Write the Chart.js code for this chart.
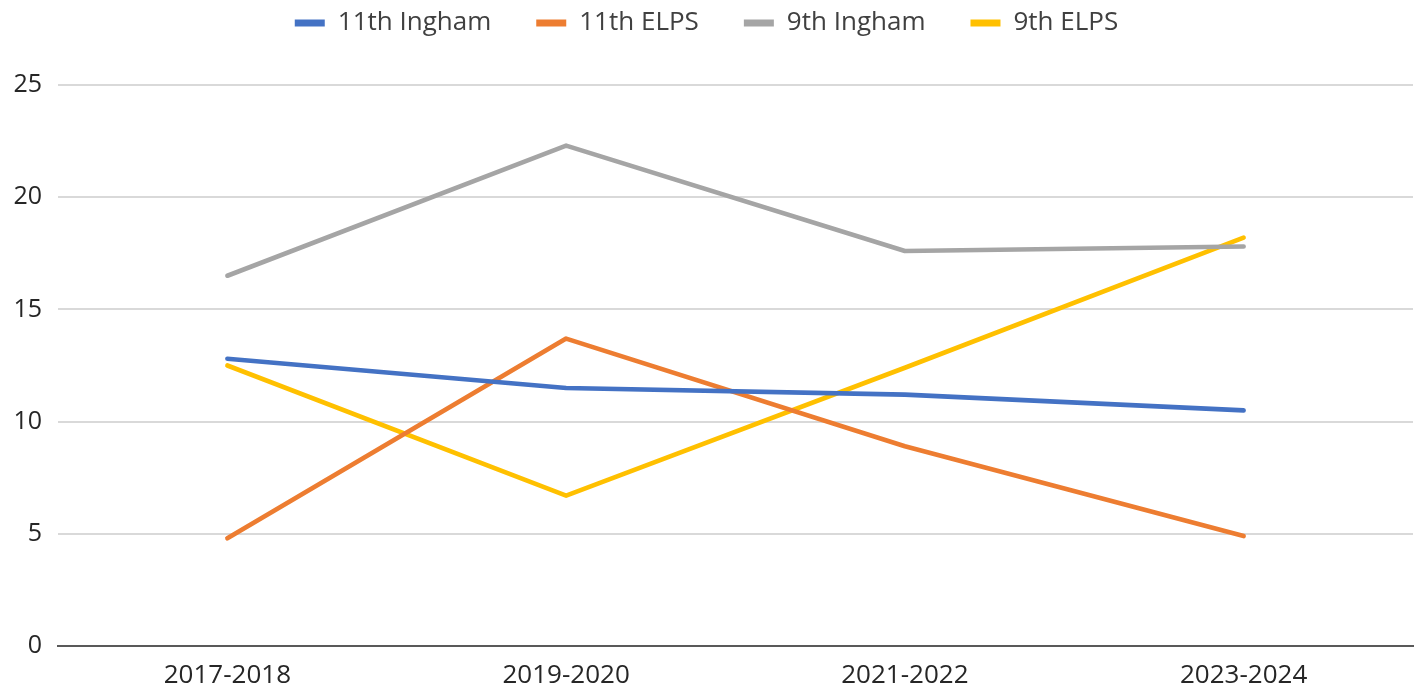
<!DOCTYPE html>
<html>
<head>
<meta charset="utf-8">
<script src="https://cdn.jsdelivr.net/npm/chart.js@4/dist/chart.umd.min.js"></script>
<style>
    body { margin: 0; background: #ffffff; }
    canvas { display: block; }
</style>
</head>
<body>
<canvas id="trendChart" width="1422" height="695"></canvas>
<script>
// ========== DATA ==========
const years = ['2017-2018', '2019-2020', '2021-2022', '2023-2024'];
const ingham11 = [12.8, 11.5, 11.2, 10.5];
const elps11 = [4.8, 13.7, 8.9, 4.9];
const ingham9 = [16.5, 22.3, 17.6, 17.8];
const elps9 = [12.5, 6.7, 12.4, 18.2];
const yTicks = [0, 5, 10, 15, 20, 25];

function makeLine(label, data, color) {
    return {
        label: label,
        data: data,
        borderColor: color,
        backgroundColor: color,
        borderWidth: 4.6,
        pointRadius: 0,
        tension: 0,
        borderCapStyle: 'round',
        borderJoinStyle: 'round'
    };
}

// Legend gets a fixed block height so the plot top lands at 85px,
// then the legend row is pulled up (its padding also spaces the items)
const legendHeight = {
    id: 'legendHeight',
    beforeInit(chart) {
        const origFit = chart.legend.fit;
        chart.legend.fit = function() {
            origFit.bind(chart.legend)();
            this.height = 85;
        };
    },
    afterLayout(chart) {
        chart.legend.top = -35;
        chart.legend.adjustHitBoxes();
    }
};

const ctx = document.getElementById('trendChart');
new Chart(ctx, {
    type: 'line',
    data: {
        labels: years,
        datasets: [
            makeLine('11th Ingham', ingham11, '#4472C4'),
            makeLine('11th ELPS', elps11, '#ED7D31'),
            makeLine('9th Ingham', ingham9, '#A5A5A5'),
            makeLine('9th ELPS', elps9, '#FFC000')
        ]
    },
    plugins: [legendHeight],
    options: {
        responsive: false,
        animation: false,
        layout: { padding: { left: 0, right: 9, top: 0, bottom: 0 } },
        plugins: {
            legend: {
                position: 'top',
                labels: {
                    boxWidth: 30,
                    boxHeight: 7,
                    padding: 45,
                    color: '#404040',
                    font: { family: 'Open Sans', size: 26 },
                    generateLabels: function(chart) {
                        return Chart.defaults.plugins.legend.labels.generateLabels(chart).map(l => {
                            l.lineWidth = 0;
                            l.fillStyle = l.strokeStyle;
                            return l;
                        });
                    }
                }
            },
            tooltip: { enabled: false }
        },
        scales: {
            x: {
                offset: true,
                grid: { display: false, drawTicks: false },
                border: { display: true, color: '#595959', width: 2 },
                ticks: {
                    color: '#262626',
                    padding: 14,
                    maxRotation: 0,
                    font: { family: 'Open Sans', size: 26 }
                },
                afterFit: function(scale) { scale.height = 49; }
            },
            y: {
                min: 0,
                max: 25,
                afterBuildTicks: function(scale) {
                    scale.ticks = yTicks.map(v => ({ value: v }));
                },
                grid: {
                    drawTicks: false,
                    color: c => c.tick && c.tick.value === 0 ? 'rgba(0,0,0,0)' : '#D9D9D9',
                    lineWidth: 2
                },
                border: { display: false },
                ticks: {
                    color: '#262626',
                    padding: 16,
                    font: { family: 'Open Sans', size: 25 }
                },
                afterFit: function(scale) { scale.width = 58; }
            }
        }
    }
});
</script>
</body>
</html>
